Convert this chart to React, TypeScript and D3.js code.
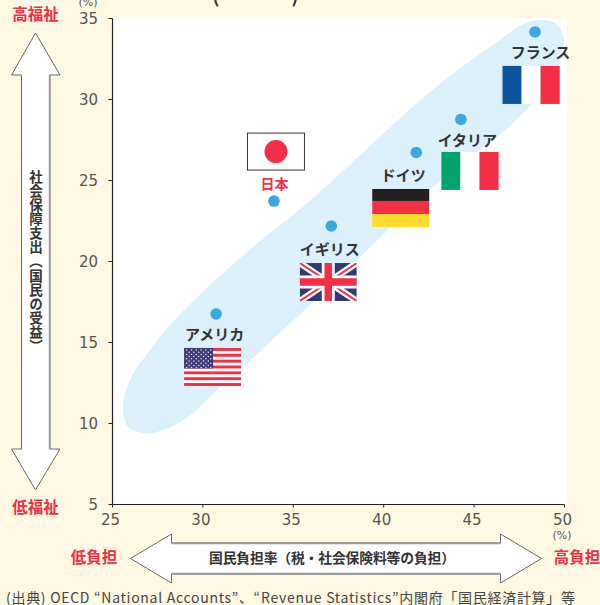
import React from "react";
import * as d3 from "d3";

// Burden rate vs. social security spending, by country (percent)
const countries = ["アメリカ", "日本", "イギリス", "ドイツ", "イタリア", "フランス"];
const burdenRate = [30.73, 33.93, 37.1, 41.8, 44.27, 48.37];
const socialSpending = [16.76, 23.73, 22.19, 26.73, 28.77, 34.17];
const xTicks = [25, 30, 35, 40, 45, 50];
const yTicks = [5, 10, 15, 20, 25, 30, 35];

// Outline of the shaded trend band, in axis units
const bandX = [25.58, 25.86, 26.69, 28.46, 30.95, 38.52, 42.56, 48.2, 49.31, 49.86, 49.92, 49.47, 48.64, 47.54, 46.43, 44.61, 35.37, 32.05, 27.07, 25.97];
const bandY = [10.83, 9.78, 9.41, 9.91, 12.25, 20.09, 24.41, 29.72, 31.2, 32.75, 33.98, 34.72, 34.9, 34.54, 33.67, 32.25, 23.24, 20.22, 14.54, 12.68];

const yCaption = "社会保障支出（国民の受益）";

const RED = "#F32E45";
const INK = "#333333";
const TICK = "#555555";
const JP = "'Noto Sans CJK JP', sans-serif";
const DV = "'DejaVu Sans', sans-serif";

const x = d3.scaleLinear().domain([25, 50]).range([112.5, 564.5]);
const y = d3.scaleLinear().domain([5, 35]).range([504.5, 18.5]);

const bandPath = d3
  .line<number>()
  .x((i) => x(bandX[i]))
  .y((i) => y(bandY[i]))
  .curve(d3.curveCatmullRomClosed.alpha(1))(d3.range(bandX.length)) as string;

// Label and flag placement relative to each country's point
const placement: Record<string, { lx: number; ly: number; fx: number; fy: number }> = {
  アメリカ: { lx: -1.5, ly: 26, fx: -32, fy: 34 },
  日本: { lx: 0.5, ly: -12, fx: -26.5, fy: -68 },
  イギリス: { lx: -1.5, ly: 29, fx: -31.5, fy: 37 },
  ドイツ: { lx: -13, ly: 28.5, fx: -44, fy: 36.5 },
  イタリア: { lx: 6.5, ly: 26.5, fx: -19.5, fy: 32.5 },
  フランス: { lx: 5.5, ly: 26, fx: -32.5, fy: 34 },
};

const FW = 57;
const FH = 38;

function UsFlag() {
  const sh = FH / 13;
  const cols = d3.range(6);
  return (
    <g>
      <rect width={FW} height={FH} fill="#fff" />
      {d3.range(0, 13, 2).map((i) => (
        <rect key={i} y={i * sh} width={FW} height={sh} fill={RED} />
      ))}
      <rect width={29} height={sh * 7} fill="#3E3B78" />
      {d3.range(9).map((r) =>
        cols.slice(0, r % 2 ? 5 : 6).map((c) => (
          <circle
            key={`${r}-${c}`}
            cx={(r % 2 ? 5 : 2.6) + c * 4.8}
            cy={2 + r * 2.2}
            r={0.75}
            fill="#E8E4F0"
          />
        ))
      )}
    </g>
  );
}

function UkFlag() {
  return (
    <g>
      <clipPath id="uk-clip">
        <rect width={FW} height={FH} />
      </clipPath>
      <g clipPath="url(#uk-clip)">
        <rect width={FW} height={FH} fill="#343A6E" />
        <path d={`M0 0L${FW} ${FH}M${FW} 0L0 ${FH}`} stroke="#fff" strokeWidth={6.5} />
        <path d={`M0 0L${FW} ${FH}M${FW} 0L0 ${FH}`} stroke={RED} strokeWidth={2} />
        <path d={`M${FW / 2} 0V${FH}M0 ${FH / 2}H${FW}`} stroke="#fff" strokeWidth={13} />
        <path d={`M${FW / 2} 0V${FH}M0 ${FH / 2}H${FW}`} stroke={RED} strokeWidth={7.5} />
      </g>
    </g>
  );
}

function VerticalTricolor({ colors }: { colors: string[] }) {
  return (
    <g>
      {colors.map((c, i) => (
        <rect key={i} x={(i * FW) / 3} width={FW / 3 + 0.2} height={FH} fill={c} />
      ))}
    </g>
  );
}

function GermanFlag() {
  return (
    <g>
      <rect width={FW} height={12} fill="#231F20" />
      <rect y={12} width={FW} height={13} fill={RED} />
      <rect y={25} width={FW} height={13} fill="#FDDD2B" />
    </g>
  );
}

function JapanFlag() {
  return (
    <g>
      <rect width={FW} height={FH - 1} fill="#fff" stroke="#333" strokeWidth={1} />
      <circle cx={28.5} cy={18.5} r={11.5} fill={RED} />
    </g>
  );
}

const flagFor: Record<string, React.ReactNode> = {
  アメリカ: <UsFlag />,
  日本: <JapanFlag />,
  イギリス: <UkFlag />,
  ドイツ: <GermanFlag />,
  イタリア: <VerticalTricolor colors={["#00A36C", "#ffffff", RED]} />,
  フランス: <VerticalTricolor colors={["#0B559F", "#ffffff", RED]} />,
};

// Block arrow with a heavier grey shadow on its long edges
function VerticalArrow() {
  const cx = 35.5;
  const pts = [
    [cx, 33], [60, 75], [49.5, 75], [49.5, 449], [60, 449], [cx, 490],
    [11.5, 449], [21.5, 449], [21.5, 75], [11.5, 75],
  ];
  return (
    <g>
      <polygon points={pts.join(" ")} fill="#fff" stroke="#666" strokeWidth={1} />
      <line x1={49.8} x2={49.8} y1={75} y2={449} stroke="#999" strokeWidth={2} />
    </g>
  );
}

function HorizontalArrow() {
  const cy = 558.5;
  const pts = [
    [130.5, cy], [171.5, 534], [171.5, 543], [500.5, 543], [500.5, 534], [541.5, cy],
    [500.5, 583], [500.5, 574], [171.5, 574], [171.5, 583],
  ];
  return (
    <g>
      <polygon points={pts.join(" ")} fill="#fff" stroke="#666" strokeWidth={1} />
      <line x1={171.5} x2={500.5} y1={543.3} y2={543.3} stroke="#999" strokeWidth={2} />
      <line x1={171.5} x2={500.5} y1={573.8} y2={573.8} stroke="#999" strokeWidth={2} />
    </g>
  );
}

export default function App() {
  return (
    <svg
      width={600}
      height={605}
      style={{ position: "absolute", left: 0, top: 0, display: "block" }}
    >
      <rect width={600} height={605} fill="#FFF9E3" />
      <rect x={112} y={18} width={455} height={486} fill="#fff" />
      <path d={bandPath} fill="#DBF0FB" />

      {/* axes */}
      <line x1={x(25)} x2={x(25)} y1={y(35)} y2={y(5)} stroke="#222" strokeWidth={1.2} />
      <line x1={x(25)} x2={x(50)} y1={y(5)} y2={y(5)} stroke="#222" strokeWidth={1.2} />
      {yTicks.map((t) => (
        <g key={t}>
          <line x1={x(25) - 4} x2={x(25)} y1={y(t)} y2={y(t)} stroke="#222" strokeWidth={1} />
          <text x={98} y={y(t) + 5.5} textAnchor="end" fontFamily={DV} fontSize={15} fill={TICK}>
            {t}
          </text>
        </g>
      ))}
      {xTicks.map((t) => (
        <g key={t}>
          <line x1={x(t)} x2={x(t)} y1={y(5)} y2={y(5) + 3} stroke="#222" strokeWidth={1} />
          <text x={x(t) - 2} y={525} textAnchor="middle" fontFamily={DV} fontSize={15} fill={TICK}>
            {t}
          </text>
        </g>
      ))}
      <text x={88} y={6} textAnchor="middle" fontFamily={DV} fontSize={11} fill={TICK}>
        (%)
      </text>
      <text x={562} y={539} textAnchor="middle" fontFamily={DV} fontSize={11} fill={TICK}>
        (%)
      </text>

      {/* heading parentheses running off the top edge */}
      <text x={216} y={3} textAnchor="middle" fontFamily={JP} fontWeight={700} fontSize={18} fill={INK}>
        (
      </text>
      <text x={295} y={3} textAnchor="middle" fontFamily={JP} fontWeight={700} fontSize={18} fill={INK}>
        )
      </text>

      {/* country points, labels and flags */}
      {countries.map((name, i) => {
        const px = x(burdenRate[i]);
        const py = y(socialSpending[i]);
        const p = placement[name];
        return (
          <g key={name}>
            <g transform={`translate(${px + p.fx},${py + p.fy})`}>{flagFor[name]}</g>
            <circle cx={px} cy={py} r={5.8} fill="#3BA7E0" />
            <text
              x={px + p.lx}
              y={py + p.ly}
              textAnchor="middle"
              fontFamily={JP}
              fontWeight={700}
              fontSize={name === "日本" ? 14 : 15}
              fill={name === "日本" ? RED : INK}
            >
              {name}
            </text>
          </g>
        );
      })}

      <VerticalArrow />
      <HorizontalArrow />

      {/* axis captions */}
      <text
        x={36}
        y={170}
        fontFamily={JP}
        fontWeight={700}
        fontSize={13.5}
        fill={INK}
        style={{ writingMode: "vertical-rl", fontKerning: "none", letterSpacing: "0.6px" }}
      >
        {yCaption}
      </text>
      <text
        x={209}
        y={563}
        textLength={246}
        lengthAdjust="spacing"
        fontFamily={JP}
        fontWeight={700}
        fontSize={13.8}
        fill={INK}
      >
        国民負担率（税・社会保険料等の負担）
      </text>

      <g fontFamily={JP} fontWeight={700} fontSize={15.5} fill={RED} textAnchor="middle">
        <text x={35.5} y={20}>高福祉</text>
        <text x={35.5} y={513}>低福祉</text>
        <text x={94} y={563}>低負担</text>
        <text x={577} y={563}>高負担</text>
      </g>

      <text x={6} y={603} textLength={569} lengthAdjust="spacing" fontFamily={JP} fontSize={14} fill="#444">
        (出典) OECD “National Accounts”、“Revenue Statistics”内閣府「国民経済計算」等
      </text>
    </svg>
  );
}
